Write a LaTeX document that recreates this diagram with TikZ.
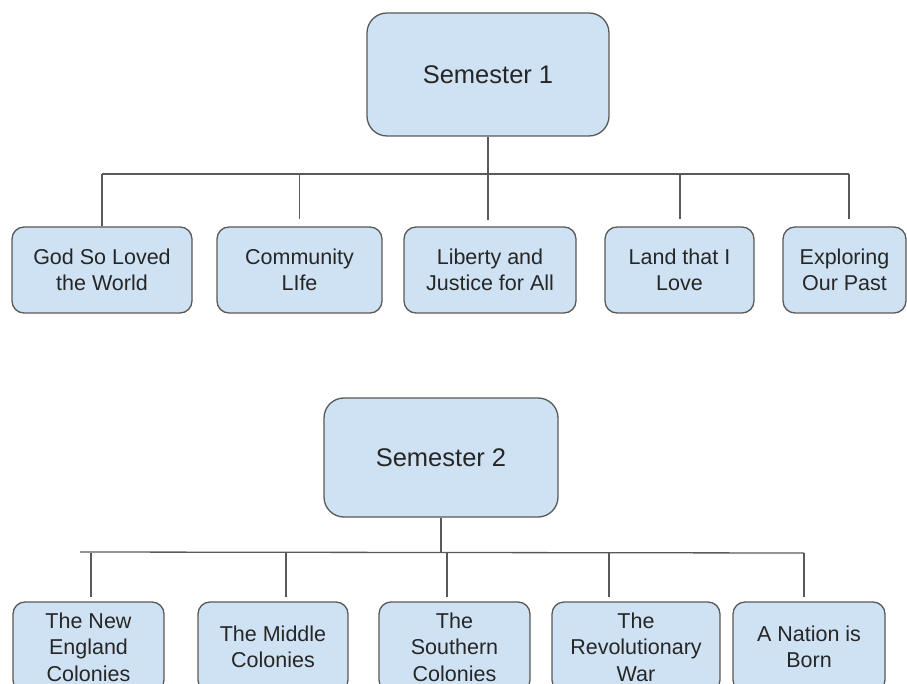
\documentclass[tikz,border=0pt]{standalone}
\usepackage{fontspec}
\setmainfont{Liberation Sans}
\usetikzlibrary{calc}

\definecolor{boxblue}{HTML}{CFE2F3}
\definecolor{edgegray}{HTML}{595959}

\tikzset{
  topic/.style={draw=edgegray, fill=boxblue, line width=1.3pt, rounded corners=12pt,
    align=center, inner sep=0pt, text=black!85,
    font=\fontsize{21.5}{26.5}\selectfont},
  semester/.style={topic, rounded corners=20pt, font=\fontsize{25.5}{30}\selectfont},
  link/.style={draw=edgegray, line width=1.3pt}
}

\begin{document}
\begin{tikzpicture}[x=1pt, y=-1pt]
            \useasboundingbox (0,0) rectangle (907,684);
            \clip (0,0) rectangle (907,684);

            % Semester 1 and its units
            \node[semester, minimum width=242, minimum height=123] (S1) at (488,74.5) {Semester 1};
            \node[topic, minimum width=180, minimum height=86] (T1) at (102,270) {God So Loved\\the World};
            \node[topic, minimum width=165, minimum height=86] (T2) at (299.5,270) {Community\\LIfe};
            \node[topic, minimum width=172, minimum height=86] (T3) at (490,270) {Liberty and\\Justice for All};
            \node[topic, minimum width=149, minimum height=86] (T4) at (679.5,270) {Land that I\\Love};
            \node[topic, minimum width=123, minimum height=86] (T5) at (844.5,270) {Exploring\\Our Past};

            % Semester 1 connectors
            \coordinate (barA) at (102,174);
            \coordinate (barB) at (849,174);
            \draw[link] (barA) -- (barB);
            \draw[link] (S1.south) -- (S1.south |- 0,220);
            \draw[link] (barA) -- (T1.north);
            \foreach \i/\x in {2/299.5, 4/680, 5/849}
                \draw[link] (\x,174) coordinate (u\i) -- (u\i |- T\i.north) [shorten >=7pt];

            % Semester 2 and its units
            \node[semester, minimum width=234, minimum height=119] (S2) at (441,457.5) {Semester 2};
            \node[topic, minimum width=151, minimum height=90] (B1) at (88.5,647) {The New\\England\\Colonies};
            \node[topic, minimum width=150, minimum height=90] (B2) at (273,647) {The Middle\\Colonies};
            \node[topic, minimum width=151, minimum height=90] (B3) at (454.5,647) {The\\Southern\\Colonies};
            \node[topic, minimum width=168, minimum height=90] (B4) at (636,647) {The\\Revolutionary\\War};
            \node[topic, minimum width=152, minimum height=90] (B5) at (809,647) {A Nation is\\Born};

            % Semester 2 connectors
            \coordinate (barC) at (80,552);
            \coordinate (barD) at (804,553);
            \draw[link] (barC) -- (barD);
            \draw[link] (S2.south) -- (S2.south |- barC);
            \foreach \i/\x in {1/91, 2/286, 3/447, 4/609, 5/804}
                \draw[link] (\x,553) coordinate (v\i) -- (v\i |- B\i.north) [shorten >=4pt];
\end{tikzpicture}
\end{document}
